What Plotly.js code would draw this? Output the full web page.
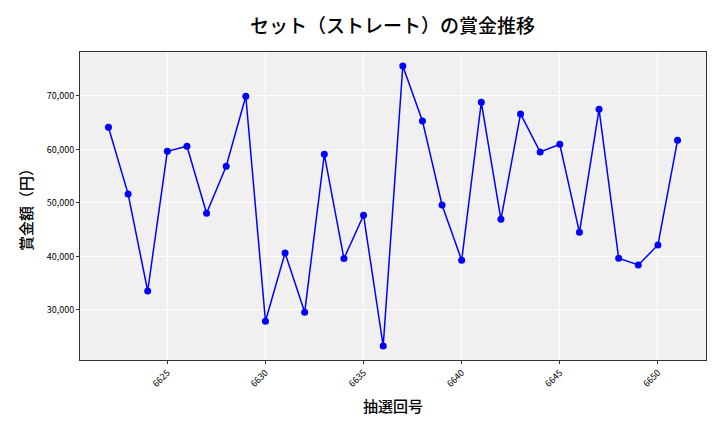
<!DOCTYPE html>
<html>
<head>
<meta charset="utf-8">
<script src="https://cdn.plot.ly/plotly-3.0.1.min.js"></script>
<style>html,body{margin:0;padding:0;background:#fff;}#chart{width:720px;height:432px;}</style>
</head>
<body>
<div id="chart"></div>
<script>
const draws = [6622,6623,6624,6625,6626,6627,6628,6629,6630,6631,6632,6633,6634,6635,6636,6637,6638,6639,6640,6641,6642,6643,6644,6645,6646,6647,6648,6649,6650,6651];
const prizes = [64150,51700,33550,59660,60600,48070,56850,69940,27890,40650,29570,59100,39600,47700,23270,75600,65330,49630,39280,68820,46950,66640,59530,60970,44520,67510,39660,38410,42150,61710];
const xTicks = [6625,6630,6635,6640,6645,6650];
const yTicks = [30000,40000,50000,60000,70000];
const yTickText = yTicks.map(v => v.toLocaleString('en-US'));

const font = "'Noto Sans CJK JP', 'Noto Sans', sans-serif";
Plotly.newPlot('chart', [{
  x: draws, y: prizes, type: 'scatter', mode: 'lines+markers',
  line: {color: '#0000ff', width: 1.5},
  marker: {color: '#0000ff', size: 7}
}], {
  width: 720, height: 432,
  margin: {l: 80, r: 14, t: 52, b: 72},
  paper_bgcolor: '#ffffff', plot_bgcolor: '#f0f0f0',
  showlegend: false,
  font: {family: font, color: '#000'},
  title: {text: 'セット（ストレート）の賞金推移', font: {family: font, size: 19, color: '#000', weight: 500}, x: 0.545, xanchor: 'center', y: 0.94, yanchor: 'middle'},
  xaxis: {
    range: [6620.55, 6652.45], tickvals: xTicks, ticktext: xTicks.map(String),
    tickangle: -45, tickfont: {size: 9}, gridcolor: '#ffffff', gridwidth: 1,
    showline: true, linecolor: '#333', linewidth: 1, mirror: true,
    ticks: 'outside', ticklen: 3, tickcolor: '#333', zeroline: false,
    title: {text: '抽選回号', font: {size: 15, weight: 500}, standoff: 12}
  },
  yaxis: {
    range: [20654, 78216], tickvals: yTicks, ticktext: yTickText,
    tickfont: {size: 9}, gridcolor: '#ffffff', gridwidth: 1,
    showline: true, linecolor: '#333', linewidth: 1, mirror: true,
    ticks: 'outside', ticklen: 3, tickcolor: '#333', zeroline: false,
    title: {text: '賞金額（円）', font: {size: 15, weight: 500}, standoff: 10}
  }
}, {displayModeBar: false, staticPlot: true});
</script>
</body>
</html>
